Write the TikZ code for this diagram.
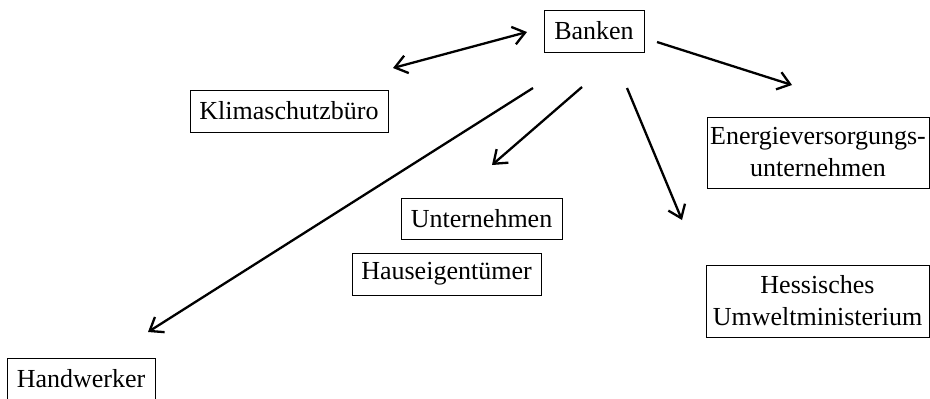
\documentclass[tikz,border=0pt]{standalone}
\usepackage{fontspec}
\setmainfont{Liberation Serif}
\usepackage{tikz}
\usetikzlibrary{arrows.meta}
\tikzstyle{box} = [rectangle, draw=black, line width=0.45pt, inner sep=0pt,
text centered, align=center, font=\fontsize{13}{16}\selectfont]
\tikzstyle{arrow} =
[line width=1.15pt, -{Straight Barb[length=6pt,width=9pt]}]
\tikzstyle{both} =
[line width=1.15pt, {Straight Barb[length=6pt,width=9pt]}-{Straight Barb[length=6pt,width=9pt]}]

\begin{document}
\begin{tikzpicture}[x=0.5pt, y=-0.5pt]
\useasboundingbox (0,0) rectangle (930,398);

\node(banken)[box, minimum width=50pt, minimum height=21pt] at (594,31){Banken};
\node(klima)[box, minimum width=99pt, minimum height=21pt] at (289,111){Klimaschutzbüro};
\node(energie)[box, minimum width=111pt, minimum height=35.5pt] at (818,152.5){Energieversorgungs-\\unternehmen};
\node(unternehmen)[box, minimum width=80.5pt, minimum height=20.5pt] at (481.5,218.5){Unternehmen};
\node(haus)[box, minimum width=94.5pt, minimum height=21pt] at (446.5,274){Hauseigentümer};
\node(hessen)[box, minimum width=111.5pt, minimum height=36pt] at (817.5,301){Hessisches\\Umweltministerium};
\node(handwerker)[box, minimum width=74pt, minimum height=21pt] at (81,379){Handwerker};

% free ends of the arrows
\coordinate(bk-kl) at (527,32);
\coordinate(kl-end) at (393,68);
\coordinate(bk-en) at (657,42);
\coordinate(en-end) at (792,85);
\coordinate(bk-un) at (582,87);
\coordinate(un-end) at (492,165);
\coordinate(bk-he) at (627,88);
\coordinate(he-end) at (682,220);
\coordinate(bk-hw) at (533,88);
\coordinate(hw-end) at (148,332);

\draw[both](kl-end) -- (bk-kl);
\draw[arrow](bk-en) -- (en-end);
\draw[arrow](bk-un) -- (un-end);
\draw[arrow](bk-he) -- (he-end);
\draw[arrow](bk-hw) -- (hw-end);

\end{tikzpicture}
\end{document}
